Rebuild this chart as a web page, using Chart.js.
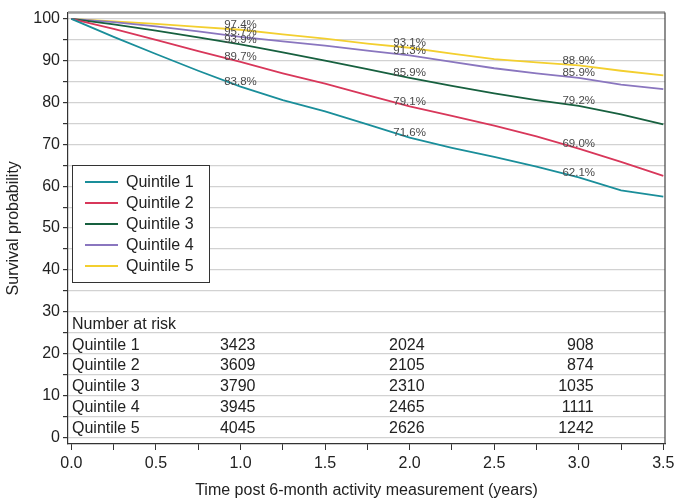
<!DOCTYPE html>
<html>
<head>
<meta charset="utf-8">
<script src="https://cdn.jsdelivr.net/npm/chart.js@4.4.1/dist/chart.umd.min.js"></script>
<style>
  body { margin: 0; background: #fff; }
  #wrap { width: 675px; height: 498px; }
</style>
</head>
<body>
<div id="wrap"><canvas id="km"></canvas></div>
<script>
// time points (years)
const times = [0, 0.25, 0.5, 0.75, 1.0, 1.25, 1.5, 1.75, 2.0, 2.25, 2.5, 2.75, 3.0, 3.25, 3.5];
const q1 = [100, 95.7, 91.6, 87.6, 83.8, 80.6, 77.9, 74.8, 71.6, 69.2, 67.0, 64.7, 62.1, 59.0, 57.5];
const q2 = [100, 97.6, 95.0, 92.3, 89.7, 87.0, 84.5, 81.8, 79.1, 76.8, 74.5, 71.9, 69.0, 65.8, 62.5];
const q3 = [100, 98.7, 97.2, 95.6, 93.9, 92.0, 90.0, 88.0, 85.9, 84.0, 82.2, 80.6, 79.2, 77.2, 74.8];
const q4 = [100, 99.2, 98.2, 97.0, 95.7, 94.6, 93.6, 92.4, 91.3, 89.7, 88.2, 87.0, 85.9, 84.3, 83.2];
const q5 = [100, 99.4, 98.8, 98.1, 97.4, 96.3, 95.3, 94.1, 93.1, 91.7, 90.4, 89.6, 88.9, 87.6, 86.5];

const seriesNames = ['Quintile 1', 'Quintile 2', 'Quintile 3', 'Quintile 4', 'Quintile 5'];
const seriesColors = ['#1a8e9a', '#d8375a', '#17603f', '#8a76bf', '#f3cf2f'];

// survival % labels at 1, 2 and 3 years
const labelTimes = [1, 2, 3];
const pct1 = [83.8, 71.6, 62.1];
const pct2 = [89.7, 79.1, 69.0];
const pct3 = [93.9, 85.9, 79.2];
const pct4 = [95.7, 91.3, 85.9];
const pct5 = [97.4, 93.1, 88.9];

// number at risk table
const riskTimes = [1, 2, 3];
const risk1 = [3423, 2024, 908];
const risk2 = [3609, 2105, 874];
const risk3 = [3790, 2310, 1035];
const risk4 = [3945, 2465, 1111];
const risk5 = [4045, 2626, 1242];

const yTicks = [0, 5, 10, 15, 20, 25, 30, 35, 40, 45, 50, 55, 60, 65, 70, 75, 80, 85, 90, 95, 100];
const xTicks = [0, 0.25, 0.5, 0.75, 1, 1.25, 1.5, 1.75, 2, 2.25, 2.5, 2.75, 3, 3.25, 3.5];

const allSeries = [q1, q2, q3, q4, q5];
const allPct = [pct1, pct2, pct3, pct4, pct5];
const allRisk = [risk1, risk2, risk3, risk4, risk5];

const FONT = 'Liberation Sans, Arial, Helvetica, sans-serif';

const extras = {
    id: 'extras',
    afterDatasetsDraw(chart) {
        const ctx = chart.ctx;
        const ca = chart.chartArea;
        const xs = chart.scales.x, ys = chart.scales.y;
        ctx.save();

        // frame: grey top, dark right
        ctx.strokeStyle = '#9a9a9a';
        ctx.lineWidth = 2.5;
        ctx.beginPath(); ctx.moveTo(ca.left, ca.top); ctx.lineTo(ca.right, ca.top); ctx.stroke();
        ctx.strokeStyle = '#444';
        ctx.lineWidth = 1.2;
        ctx.beginPath(); ctx.moveTo(ca.right, ca.top); ctx.lineTo(ca.right, ca.bottom); ctx.stroke();

        // percentage labels
        ctx.font = '11.5px ' + FONT;
        ctx.fillStyle = '#4a4a4a';
        ctx.textAlign = 'center';
        ctx.textBaseline = 'bottom';
        allPct.forEach(arr => {
            arr.forEach((v, i) => {
                ctx.fillText(v.toFixed(1) + '%', xs.getPixelForValue(labelTimes[i]), ys.getPixelForValue(v) + 1);
            });
        });

        // number at risk table
        ctx.font = '16px ' + FONT;
        ctx.fillStyle = '#222';
        ctx.textBaseline = 'middle';
        ctx.textAlign = 'left';
        ctx.fillText('Number at risk', ca.left + 4, ys.getPixelForValue(27.5) + 2);
        allRisk.forEach((row, r) => {
            const y = ys.getPixelForValue(22.5 - 5 * r) + 2;
            ctx.textAlign = 'left';
            ctx.fillText(seriesNames[r], ca.left + 4, y);
            ctx.textAlign = 'right';
            row.forEach((n, i) => ctx.fillText(String(n), xs.getPixelForValue(riskTimes[i]) + 15, y));
        });

        // legend box
        const lx = ca.left + 4, ly = 165, lw = 137, lh = 117;
        ctx.fillStyle = '#fff';
        ctx.fillRect(lx, ly, lw, lh);
        ctx.strokeStyle = '#333';
        ctx.lineWidth = 1;
        ctx.strokeRect(lx + 0.5, ly + 0.5, lw, lh);
        ctx.textAlign = 'left';
        seriesNames.forEach((name, i) => {
            const y = ly + 17 + i * 21;
            ctx.strokeStyle = seriesColors[i];
            ctx.lineWidth = 2.2;
            ctx.beginPath(); ctx.moveTo(lx + 13, y); ctx.lineTo(lx + 46, y); ctx.stroke();
            ctx.fillStyle = '#222';
            ctx.fillText(name, lx + 54, y + 1);
        });
        ctx.restore();
    }
};

new Chart(document.getElementById('km'), {
    type: 'line',
    data: {
        datasets: allSeries.map((s, i) => ({
            label: seriesNames[i],
            data: s.map((v, j) => ({ x: times[j], y: v })),
            borderColor: seriesColors[i],
            borderWidth: 1.8,
            pointRadius: 0,
            tension: 0,
            fill: false
        }))
    },
    options: {
        responsive: true,
        maintainAspectRatio: false,
        animation: false,
        layout: { padding: { top: 3, right: 10, left: 0, bottom: 0 } },
        plugins: { legend: { display: false }, tooltip: { enabled: false } },
        scales: {
            x: {
                type: 'linear',
                min: -0.02,
                max: 3.51,
                afterBuildTicks: s => { s.ticks = xTicks.map(v => ({ value: v })); },
                afterFit: s => { s.height = 54; s.paddingRight = 0; s.paddingLeft = 0; },
                ticks: {
                    autoSkip: false,
                    maxRotation: 0,
                    color: '#222',
                    font: { size: 16, family: FONT },
                    padding: 4,
                    callback: v => (Math.abs(v * 2 - Math.round(v * 2)) < 1e-6 ? v.toFixed(1) : '')
                },
                grid: { drawOnChartArea: false, tickLength: 6, tickColor: '#333' },
                border: { color: '#333', width: 1.2 },
                title: {
                    display: true,
                    text: 'Time post 6-month activity measurement (years)',
                    color: '#222',
                    font: { size: 16, family: FONT },
                    padding: { top: 4, bottom: -2 }
                }
            },
            y: {
                min: -1.6,
                max: 101.5,
                afterBuildTicks: s => { s.ticks = yTicks.map(v => ({ value: v })); },
                afterFit: s => { s.width = 68; },
                ticks: {
                    autoSkip: false,
                    color: '#222',
                    font: { size: 16, family: FONT },
                    padding: 3,
                    callback: v => (v % 10 === 0 ? v : '')
                },
                grid: { color: '#d2d2d2', lineWidth: 1.2, tickLength: 5, tickColor: '#333' },
                border: { color: '#333', width: 1.2 },
                title: {
                    display: true,
                    text: 'Survival probability',
                    color: '#222',
                    font: { size: 16, family: FONT },
                    padding: { bottom: 4 }
                }
            }
        }
    },
    plugins: [extras]
});
</script>
</body>
</html>
